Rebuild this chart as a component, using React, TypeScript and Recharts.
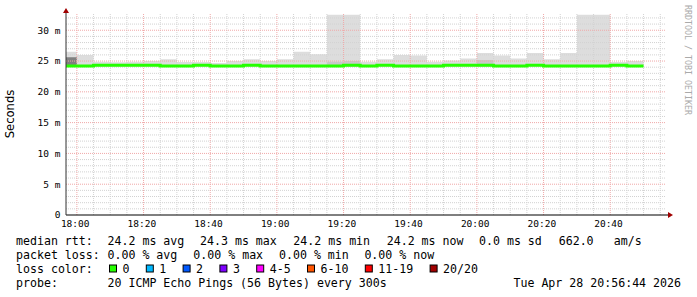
import React from 'react';
import { ComposedChart, Area, Line, XAxis, YAxis, ReferenceLine, ReferenceDot } from 'recharts';

// ---- data (minutes after 18:00, 5-minute steps) ----
const stepStart = [-5, 0, 5, 10, 15, 20, 25, 30, 35, 40, 45, 50, 55, 60, 65, 70, 75, 80, 85, 90, 95, 100, 105, 110, 115, 120, 125, 130, 135, 140, 145, 150, 155, 160, 165];
const smokeMin = [24.1, 24.1, 24.1, 24.1, 24.1, 24.1, 24.1, 24.1, 24.1, 24.1, 24.1, 24.1, 24.1, 24.1, 24.1, 24.1, 24.1, 24.1, 24.1, 24.1, 24.1, 24.1, 24.1, 24.1, 24.1, 24.1, 24.1, 24.1, 24.1, 24.1, 24.1, 24.1, 24.1, 24.1, 24.1];
const smokeMax = [26.5, 26.0, 24.9, 24.8, 24.9, 25.0, 25.3, 24.85, 24.85, 24.7, 25.0, 25.3, 25.0, 25.3, 26.5, 26.1, 32.5, 32.5, 24.9, 25.3, 26.0, 25.9, 24.9, 25.1, 25.4, 26.3, 25.9, 25.4, 26.3, 25.3, 26.3, 32.5, 32.5, 24.85, 25.0];
const midMax = [24.1, 24.1, 24.1, 24.1, 24.1, 24.1, 24.1, 24.1, 24.1, 24.1, 24.1, 24.1, 24.1, 24.1, 24.1, 24.1, 24.9, 25.0, 24.1, 24.1, 24.1, 24.1, 24.1, 24.1, 24.1, 25.15, 24.1, 24.1, 24.1, 24.1, 24.1, 24.1, 24.1, 24.1, 24.1];
const denseMax = [25.6, 24.1, 24.1, 24.1, 24.1, 24.1, 24.1, 24.1, 24.1, 24.1, 24.1, 24.1, 24.1, 24.1, 24.1, 24.1, 24.1, 24.1, 24.1, 24.1, 24.1, 24.1, 24.1, 24.1, 24.1, 24.1, 24.1, 24.1, 24.1, 24.1, 24.1, 24.1, 24.1, 24.1, 24.1];
const medianRtt = [24.2, 24.2, 24.32, 24.32, 24.32, 24.32, 24.2, 24.2, 24.32, 24.2, 24.2, 24.32, 24.2, 24.2, 24.2, 24.2, 24.2, 24.32, 24.2, 24.32, 24.2, 24.2, 24.2, 24.32, 24.32, 24.32, 24.2, 24.2, 24.32, 24.2, 24.2, 24.2, 24.2, 24.32, 24.2];

const xTicks = [0, 20, 40, 60, 80, 100, 120, 140, 160];
const xTickLabels = ['18:00', '18:20', '18:40', '19:00', '19:20', '19:40', '20:00', '20:20', '20:40'];
const yTicks = [0, 5, 10, 15, 20, 25, 30];
const yTickLabels = ['0', '5 m', '10 m', '15 m', '20 m', '25 m', '30 m'];

const statRtt = ['median rtt:', '24.2 ms avg', '24.3 ms max', '24.2 ms min', '24.2 ms now', '0.0 ms sd', '662.0', 'am/s'];
const statLoss = ['packet loss:', '0.00 % avg', '0.00 % max', '0.00 % min', '0.00 % now'];
const lossLabels = ['0', '1', '2', '3', '4-5', '6-10', '11-19', '20/20'];
const lossColors = ['#26ff00', '#00b8ff', '#0059ff', '#7e00ff', '#ff00ff', '#ff5500', '#ff0000', '#a10000'];
const probeText = ['probe:', '20 ICMP Echo Pings (56 Bytes) every 300s'];
const dateText = 'Tue Apr 28 20:56:44 2026';

// ---- layout ----
const X_DOMAIN: [number, number] = [-3.267, 176.733];
const Y_DOMAIN: [number, number] = [0, 32.8];
const MONO = '"DejaVu Sans Mono", monospace';
const rttX = [16, 107.5, 200, 293.3, 386.7, 479, 558.7, 613.8];
const lossX = [16, 107.5, 193.3, 279, 364.4];
const rowY = [245, 259, 273, 287];

const rows = stepStart.map((t, i) => ({
  t,
  smoke: [smokeMin[i], smokeMax[i]],
  mid: [smokeMin[i], midMax[i]],
  dense: [smokeMin[i], denseMax[i]],
  median: medianRtt[i],
}));
// closing point: end of the last 5-minute interval
rows.push({ ...rows[rows.length - 1], t: stepStart[stepStart.length - 1] + 5 });

const minorY: number[] = [];
for (let v = 1; v <= 32; v++) if (v % 5 !== 0) minorY.push(v);
const majorY = [5, 10, 15, 20, 25, 30];
const minorX: number[] = [];
for (let v = 5; v <= 175; v += 5) if (v % 20 !== 0) minorX.push(v);

const XTick = (props: any) => {
  const idx = xTicks.indexOf(props.payload.value);
  return (
    <text x={props.x - 1.7} y={props.y + 11.7} textAnchor="middle" fontFamily={MONO} fontSize={9.5} fill="#000">
      {xTickLabels[idx]}
    </text>
  );
};
const YTick = (props: any) => {
  const idx = yTicks.indexOf(props.payload.value);
  return (
    <text x={props.x - 5.5} y={props.y} dy="0.36em" textAnchor="end" fontFamily={MONO} fontSize={9.5} fill="#000">
      {yTickLabels[idx]}
    </text>
  );
};
const XArrow = (p: any) => (
  <g>
    <line x1={p.cx} y1={p.cy} x2={p.cx + 3} y2={p.cy} stroke="#000" />
    <polygon points={`${p.cx + 2},${p.cy - 3} ${p.cx + 7},${p.cy} ${p.cx + 2},${p.cy + 3}`} fill="#a00000" />
  </g>
);
const YArrow = (p: any) => (
  <polygon points={`${p.cx - 3},${p.cy} ${p.cx},${p.cy - 5} ${p.cx + 3},${p.cy}`} fill="#a00000" />
);

export default function App() {
  let bx = 109;
  const boxes = lossLabels.map((lab, i) => {
    const x = bx;
    bx = bx + 13.5 + lab.length * 7 + 16.3;
    return (
      <g key={lab}>
        <rect x={x + 0.5} y={265} width={7} height={7} fill={lossColors[i]} stroke="#000" strokeWidth={1} />
        <text x={x + 13.5} y={rowY[2]}>{lab}</text>
      </g>
    );
  });
  return (
    <div style={{ position: 'absolute', left: 0, top: 0, width: 697, height: 297, background: '#fff' }}>
      <ComposedChart width={697} height={297} data={rows} margin={{ top: 13, right: 31, bottom: 52, left: 0 }}>
        <XAxis dataKey="t" type="number" domain={X_DOMAIN} allowDataOverflow ticks={xTicks} interval={0}
          tick={XTick} tickLine={false} tickSize={0} tickMargin={0} height={30} axisLine={{ stroke: '#000' }} />
        <YAxis type="number" domain={Y_DOMAIN} allowDataOverflow ticks={yTicks} interval={0}
          tick={YTick} tickLine={false} tickSize={0} tickMargin={0} width={66} axisLine={{ stroke: '#333' }} />
        <Area dataKey="smoke" type="stepAfter" fill="#dddddd" fillOpacity={1} stroke="none" isAnimationActive={false} />
        <Area dataKey="mid" type="stepAfter" fill="#c8c8c8" fillOpacity={1} stroke="none" isAnimationActive={false} />
        <Area dataKey="dense" type="stepAfter" fill="#808080" fillOpacity={1} stroke="none" isAnimationActive={false} />
        {minorY.map((v) => (
          <ReferenceLine key={'my' + v} y={v} stroke="#d2d2d2" strokeDasharray="1 1" />
        ))}
        {minorX.map((v) => (
          <ReferenceLine key={'mx' + v} x={v} stroke="#d2d2d2" strokeDasharray="1 1" />
        ))}
        {majorY.map((v) => (
          <ReferenceLine key={'My' + v} y={v} stroke="#f0a8a8" strokeDasharray="1 1" />
        ))}
        {xTicks.map((v) => (
          <ReferenceLine key={'Mx' + v} x={v} stroke="#f0a8a8" strokeDasharray="1 1" />
        ))}
        <Line dataKey="median" type="stepAfter" stroke="#26ff00" strokeWidth={3} dot={false} isAnimationActive={false} />
        <ReferenceDot x={X_DOMAIN[1]} y={0} r={0} ifOverflow="visible" shape={XArrow} />
        <ReferenceDot x={X_DOMAIN[0]} y={Y_DOMAIN[1]} r={0} ifOverflow="visible" shape={YArrow} />
      </ComposedChart>
      <svg width={697} height={297} style={{ position: 'absolute', left: 0, top: 0, pointerEvents: 'none' }}>
        <text transform="translate(14,114) rotate(-90)" textAnchor="middle" fontFamily='"DejaVu Sans", sans-serif' fontSize={11.6} fill="#000">Seconds</text>
        <text transform="translate(685,5) rotate(90)" fontFamily={MONO} fontSize={8.3} fill="#aaaaaa">RRDTOOL / TOBI OETIKER</text>
        <g fontFamily={MONO} fontSize={11.6} fill="#000" style={{ whiteSpace: 'pre' }}>
          {statRtt.map((s, i) => (
            <text key={'r' + i} x={rttX[i]} y={rowY[0]}>{s}</text>
          ))}
          {statLoss.map((s, i) => (
            <text key={'l' + i} x={lossX[i]} y={rowY[1]}>{s}</text>
          ))}
          <text x={16} y={rowY[2]}>loss color:</text>
          {boxes}
          <text x={16} y={rowY[3]}>{probeText[0]}</text>
          <text x={107.5} y={rowY[3]}>{probeText[1]}</text>
          <text x={681} y={rowY[3]} textAnchor="end">{dateText}</text>
        </g>
      </svg>
    </div>
  );
}
